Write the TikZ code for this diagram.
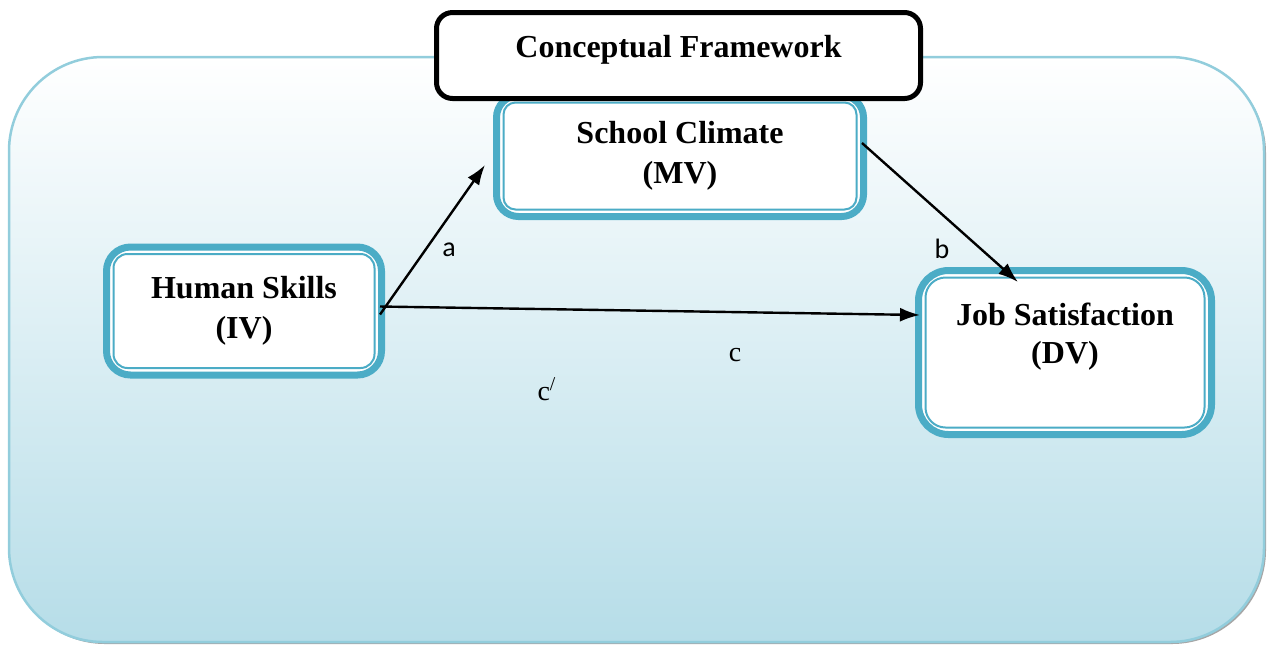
\documentclass[tikz,border=0pt]{standalone}
\usepackage{fontspec}
\setmainfont{Liberation Serif}
\newfontfamily\labelfont{Carlito}
\usetikzlibrary{arrows.meta}

\definecolor{frameblue}{HTML}{4BACC6}
\definecolor{bgedge}{HTML}{92CDDC}
\definecolor{bgfill}{HTML}{B6DDE8}

\begin{document}
\begin{tikzpicture}[
        x=0.5pt, y=-0.5pt,
        % define styles
        varbox/.style={
            draw=frameblue,
            line width=3.5pt,
            fill=white,
            align=center,
            font=\fontsize{16}{20}\selectfont\bfseries
        },
        innerline/.style={
            draw=frameblue,
            line width=1pt
        },
        boxtext/.style={
            align=center,
            font=\fontsize{16}{19}\selectfont\bfseries
        },
        pathlabel/.style={
            font=\labelfont\fontsize{14}{16}\selectfont
        },
        seriflabel/.style={
            font=\fontsize{14}{16}\selectfont
        },
        >={Latex[length=10pt,width=7pt]}
    ]
    \useasboundingbox (0,0) rectangle (1268,645);

    % background panel with its shadow
    \fill[black!35, rounded corners=47pt] (11,59) rectangle (1266,644);
    \draw[bgedge, line width=1.25pt, top color=white, bottom color=bgfill,
        rounded corners=47pt] (9,57) rectangle (1264,642);

    % variable boxes
    \node[varbox, rounded corners=12pt, minimum width=137.5pt, minimum height=64pt]
        (hs) at (244,311) {Human Skills\\(IV)};
    \node[varbox, rounded corners=11pt, minimum width=183.5pt, minimum height=60.5pt]
        (sc) at (680,156) {School Climate\\(MV)};
    \node[varbox, rounded corners=15pt, minimum width=146.5pt, minimum height=82pt]
        (js) at (1065,352.5) {};
    \node[boxtext] (js-text) at (1065,337) {Job Satisfaction\\(DV)};

    % thin inner frame of each box
    \foreach \vb/\r in {hs/7, sc/6, js/10}
        \draw[innerline, rounded corners=\r pt]
            ([shift={(5.25pt,5.25pt)}]\vb.south west) rectangle
            ([shift={(-5.25pt,-5.25pt)}]\vb.north east);

    % heading box on top
    \node[draw, line width=2.5pt, rounded corners=8pt, fill=white,
        minimum width=242pt, minimum height=43pt] (title) at (678.5,55.5) {};
    \node[boxtext] (title-text) at (678.5,50) {Conceptual Framework};

    % paths a, b and c
    \draw[->, line width=1.2pt] ([xshift=-2.5pt, yshift=-1.75pt]hs.east)
        -- ([xshift=-4pt, yshift=-4.5pt]sc.west);
    \draw[->, line width=1.2pt] ([xshift=-2.5pt, yshift=6.5pt]sc.east)
        -- ([xshift=-23.5pt, yshift=-7.5pt]js.north);
    \draw[->, line width=1.2pt] ([xshift=-2.5pt, yshift=2.25pt]hs.east)
        -- ([xshift=2.5pt, yshift=18.75pt]js.west);

    % path labels
    \node[pathlabel] (a-label) at (449,250) {a};
    \node[pathlabel] (b-label) at (942,249) {b};
    \node[seriflabel] (c-label) at (735,355) {c};
    \node[seriflabel] (cprime-label) at (547,389) {c\textsuperscript{/}};
\end{tikzpicture}
\end{document}
